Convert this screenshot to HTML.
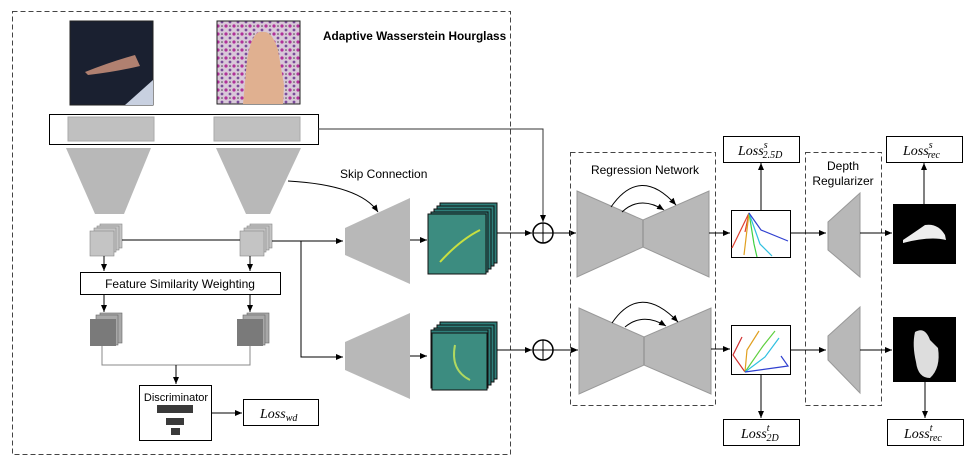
<!DOCTYPE html>
<html><head><meta charset="utf-8"><style>
html,body{margin:0;padding:0;background:#fff;}
svg{display:block;font-family:"Liberation Sans",sans-serif;}
.l{font-family:"Liberation Serif",serif;font-style:italic;}
</style></head><body>
<svg width="969" height="471" viewBox="0 0 969 471" xmlns="http://www.w3.org/2000/svg">
<defs>
<marker id="a" markerWidth="8" markerHeight="8" refX="7" refY="4" orient="auto" markerUnits="userSpaceOnUse"><path d="M0,1 L7,4 L0,7 z" fill="#000"/></marker>
<pattern id="fl" width="8" height="8" patternUnits="userSpaceOnUse"><rect width="8" height="8" fill="#d8c8d8"/><circle cx="2" cy="2" r="1.6" fill="#b0309a"/><circle cx="6" cy="6" r="1.4" fill="#7a4a9a"/><circle cx="6" cy="2" r="0.8" fill="#444"/></pattern>
</defs>
<rect x="12.5" y="11.5" width="498" height="443" fill="none" stroke="#444" stroke-dasharray="5,3"/>
<text x="323" y="40" font-size="11.8" font-weight="bold">Adaptive Wasserstein Hourglass</text>
<rect x="70" y="21" width="83" height="84" fill="#1a2030" stroke="#222"/>
<path d="M125,105 L153,80 L153,105 z" fill="#c8d0e0"/>
<path d="M85,72 Q110,62 135,55 L140,66 Q115,72 88,75 z" fill="#b08070"/>
<rect x="217" y="21" width="83" height="83" fill="url(#fl)" stroke="#222"/>
<path d="M243,104 L247,60 Q252,30 262,32 Q272,30 278,50 L284,85 L283,104 z" fill="#e0b090"/>
<rect x="49.5" y="114.5" width="269" height="30" fill="#fff" stroke="#000"/>
<rect x="68" y="117" width="86" height="24" fill="#c0c0c0" stroke="#aaa"/>
<rect x="214" y="117" width="86" height="24" fill="#c0c0c0" stroke="#aaa"/>
<polyline points="318,129 543,129 543,222" fill="none" stroke="#333" marker-end="url(#a)"/>
<polygon points="66,148 151,148 124,214 95,214" fill="#b8b8b8"/>
<polygon points="216,148 301,148 270,214 246,214" fill="#b8b8b8"/>
<text x="340" y="178" font-size="12">Skip Connection</text>
<path d="M288,181 Q360,185 378,212" fill="none" stroke="#000" marker-end="url(#a)"/>
<g fill="#c4c4c4" stroke="#888" stroke-width="0.6">
<rect x="100" y="224" width="22" height="24"/><rect x="97" y="226" width="22" height="24"/><rect x="94" y="228" width="22" height="24"/><rect x="90" y="231" width="24" height="25"/>
<rect x="250" y="224" width="22" height="24"/><rect x="247" y="226" width="22" height="24"/><rect x="244" y="228" width="22" height="24"/><rect x="240" y="231" width="24" height="25"/>
</g>
<g stroke="#000" fill="none">
<line x1="122" y1="240" x2="240" y2="240"/>
<line x1="272" y1="241" x2="343" y2="241" marker-end="url(#a)"/>
<polyline points="301,241 301,357 343,357" marker-end="url(#a)"/>
<line x1="104" y1="256" x2="104" y2="271" marker-end="url(#a)"/>
<line x1="250" y1="256" x2="250" y2="271" marker-end="url(#a)"/>
<line x1="104" y1="294" x2="104" y2="312" marker-end="url(#a)"/>
<line x1="250" y1="294" x2="250" y2="312" marker-end="url(#a)"/>
</g>
<rect x="80.5" y="272.5" width="200" height="22" fill="#fff" stroke="#000"/>
<text x="180" y="288" font-size="12" text-anchor="middle">Feature Similarity Weighting</text>
<g fill="#a8a8a8" stroke="#666" stroke-width="0.6">
<rect x="100" y="313" width="22" height="30"/><rect x="96" y="315" width="22" height="30"/>
<rect x="247" y="313" width="22" height="30"/><rect x="243" y="315" width="22" height="30"/>
</g>
<rect x="90" y="319" width="26" height="27" fill="#7a7a7a"/>
<rect x="237" y="319" width="26" height="27" fill="#7a7a7a"/>
<polyline points="102,346 102,365 250,365 250,346" fill="none" stroke="#888"/>
<line x1="176" y1="365" x2="176" y2="384" stroke="#000" marker-end="url(#a)"/>
<rect x="139.5" y="385.5" width="72" height="55" fill="#fff" stroke="#000"/>
<text x="176" y="401" font-size="11" text-anchor="middle">Discriminator</text>
<rect x="157" y="405" width="36" height="8" fill="#3a3a3a"/>
<rect x="166" y="418" width="18" height="7" fill="#3a3a3a"/>
<rect x="171" y="428" width="9" height="7" fill="#3a3a3a"/>
<line x1="212" y1="413" x2="242" y2="413" stroke="#000" marker-end="url(#a)"/>
<rect x="243.5" y="399.5" width="75" height="26" fill="#fff" stroke="#000"/>
<text x="260" y="418" font-size="14" class="l">Loss<tspan font-size="10" dy="3">wd</tspan></text>
<polygon points="345,228 410,198 410,284 345,255" fill="#b8b8b8"/>
<polygon points="345,342 410,313 410,399 345,370" fill="#b8b8b8"/>
<line x1="410" y1="240" x2="427" y2="240" stroke="#000" marker-end="url(#a)"/>
<line x1="410" y1="356" x2="427" y2="356" stroke="#000" marker-end="url(#a)"/>
<g stroke="#111" fill="#2e7f7a">
<rect x="440" y="203" width="57" height="60"/><rect x="437" y="206" width="57" height="60"/><rect x="434" y="209" width="57" height="60"/><rect x="431" y="212" width="57" height="60"/><rect x="428" y="214" width="58" height="60" fill="#3c8c80"/>
<rect x="440" y="322" width="57" height="57"/><rect x="437" y="325" width="57" height="57"/><rect x="434" y="328" width="57" height="57"/><rect x="431" y="330" width="57" height="58"/><rect x="432" y="333" width="55" height="57" fill="#3c8c80"/>
</g>
<path d="M440,262 Q460,240 480,230" stroke="#c8e040" stroke-width="2" fill="none"/>
<path d="M455,345 Q450,370 470,380" stroke="#b0d860" stroke-width="2" fill="none"/>
<g stroke="#000" fill="none">
<line x1="497" y1="233" x2="532" y2="233" marker-end="url(#a)"/>
<line x1="497" y1="350" x2="532" y2="350" marker-end="url(#a)"/>
<circle cx="543" cy="233" r="10" stroke-width="1.5"/><line x1="533" y1="233" x2="553" y2="233"/><line x1="543" y1="223" x2="543" y2="243"/>
<circle cx="543" cy="350" r="10" stroke-width="1.5"/><line x1="533" y1="350" x2="553" y2="350"/><line x1="543" y1="340" x2="543" y2="360"/>
<line x1="553" y1="233" x2="576" y2="233" marker-end="url(#a)"/>
<line x1="553" y1="350" x2="578" y2="350" marker-end="url(#a)"/>
</g>
<rect x="570.5" y="152.5" width="145" height="253" fill="none" stroke="#444" stroke-dasharray="5,3"/>
<text x="645" y="174" font-size="12" text-anchor="middle">Regression Network</text>
<polygon points="577,191 643,220 709,191 709,277 643,247 577,277" fill="#b8b8b8" stroke="#999"/>
<line x1="643" y1="220" x2="643" y2="247" stroke="#888"/>
<polygon points="579,308 644,337 711,308 711,394 644,365 579,394" fill="#b8b8b8" stroke="#999"/>
<line x1="644" y1="337" x2="644" y2="365" stroke="#888"/>
<g stroke="#000" fill="none">
<path d="M611,207 Q640,165 676,205" marker-end="url(#a)"/>
<path d="M622,212 Q640,195 664,210" marker-end="url(#a)"/>
<path d="M612,323 Q640,282 678,322" marker-end="url(#a)"/>
<path d="M625,327 Q643,312 666,326" marker-end="url(#a)"/>
<line x1="709" y1="233" x2="730" y2="233" marker-end="url(#a)"/>
<line x1="711" y1="349" x2="730" y2="349" marker-end="url(#a)"/>
</g>
<rect x="731.5" y="210.5" width="59" height="47" fill="#fff" stroke="#000"/>
<g fill="none" stroke-width="1.2">
<path d="M732,248 L749,213 L745,232" stroke="#e04030"/><path d="M749,213 L744,255" stroke="#e0a020"/><path d="M749,213 L754,244 L757,257" stroke="#40d040"/><path d="M749,213 L760,244 L772,256" stroke="#30c0e0"/><path d="M749,213 L761,230 L788,241" stroke="#3040d0"/>
</g>
<rect x="731.5" y="325.5" width="59" height="49" fill="#fff" stroke="#000"/>
<g fill="none" stroke-width="1.2">
<path d="M742,337 L733,355 L745,372" stroke="#d03030"/><path d="M745,372 L747,350 L759,331" stroke="#e0a020"/><path d="M745,372 L763,346 L775,331" stroke="#60d040"/><path d="M745,372 L765,357 L779,338" stroke="#30c0e0"/><path d="M745,372 L788,366 L781,356" stroke="#3040d0"/>
</g>
<g stroke="#000" fill="none">
<line x1="761" y1="210" x2="761" y2="163" marker-end="url(#a)"/>
<line x1="761" y1="375" x2="761" y2="418" marker-end="url(#a)"/>
</g>
<rect x="723.5" y="136.5" width="76" height="26" fill="#fff" stroke="#000"/>
<text x="738" y="155" font-size="14" class="l">Loss<tspan font-size="10" dy="-7">s</tspan><tspan font-size="10" dx="-5" dy="10">2.5D</tspan></text>
<rect x="723.5" y="419.5" width="76" height="26" fill="#fff" stroke="#000"/>
<text x="741" y="438" font-size="14" class="l">Loss<tspan font-size="10" dy="-7">t</tspan><tspan font-size="10" dx="-3" dy="10">2D</tspan></text>
<rect x="805.5" y="152.5" width="76" height="253" fill="none" stroke="#444" stroke-dasharray="5,3"/>
<text x="843" y="170" font-size="12" text-anchor="middle">Depth</text>
<text x="843" y="185" font-size="12" text-anchor="middle">Regularizer</text>
<polygon points="860,193 860,277 828,250 828,222" fill="#b8b8b8" stroke="#999"/>
<polygon points="860,307 860,393 828,360 828,336" fill="#b8b8b8" stroke="#999"/>
<g stroke="#000" fill="none">
<line x1="790" y1="233" x2="826" y2="233" marker-end="url(#a)"/>
<line x1="790" y1="350" x2="826" y2="350" marker-end="url(#a)"/>
<line x1="860" y1="233" x2="892" y2="233" marker-end="url(#a)"/>
<line x1="860" y1="350" x2="892" y2="350" marker-end="url(#a)"/>
</g>
<rect x="893" y="204" width="63" height="60" fill="#000"/>
<path d="M903,240 Q915,232 925,225 Q938,223 945,235 L946,240 Q930,236 903,243 z" fill="#eee"/>
<rect x="893" y="317" width="63" height="65" fill="#000"/>
<path d="M915,332 Q925,326 930,340 L938,348 Q941,368 930,378 Q918,378 916,362 Q912,345 915,332 z" fill="#ddd"/>
<g stroke="#000" fill="none">
<line x1="924" y1="204" x2="924" y2="163" marker-end="url(#a)"/>
<line x1="925" y1="382" x2="925" y2="418" marker-end="url(#a)"/>
</g>
<rect x="886.5" y="136.5" width="76" height="26" fill="#fff" stroke="#000"/>
<text x="903" y="155" font-size="14" class="l">Loss<tspan font-size="10" dy="-7">s</tspan><tspan font-size="10" dx="-5" dy="10">rec</tspan></text>
<rect x="887.5" y="419.5" width="76" height="26" fill="#fff" stroke="#000"/>
<text x="904" y="438" font-size="14" class="l">Loss<tspan font-size="10" dy="-7">t</tspan><tspan font-size="10" dx="-3" dy="10">rec</tspan></text>
</svg>
</body></html>
